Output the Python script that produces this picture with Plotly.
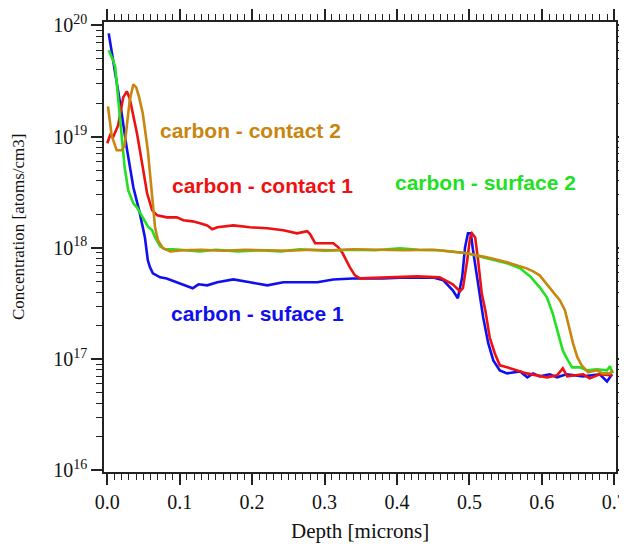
import plotly.graph_objects as go

# ---------------- data ----------------
depth_s1 = [0.002, 0.008, 0.018, 0.027, 0.036, 0.045, 0.049, 0.052, 0.056, 0.059, 0.063,
            0.073, 0.082, 0.100, 0.118, 0.126, 0.138, 0.152, 0.174, 0.197, 0.221, 0.243,
            0.266, 0.290, 0.312, 0.339, 0.381, 0.404, 0.450, 0.464, 0.477, 0.484, 0.490,
            0.494, 0.498, 0.502, 0.505, 0.512, 0.519, 0.526, 0.533, 0.542, 0.552, 0.570,
            0.580, 0.588, 0.597, 0.611, 0.621, 0.634, 0.657, 0.680, 0.690, 0.697]
conc_s1 = [8.47e19, 4.95e19, 1.95e19, 7.84e18, 3.50e18, 2.04e18, 1.53e18, 1.24e18, 7.72e17,
           6.68e17, 5.90e17, 5.43e17, 5.30e17, 4.80e17, 4.33e17, 4.70e17, 4.60e17, 4.90e17,
           5.20e17, 4.90e17, 4.60e17, 4.90e17, 4.90e17, 4.90e17, 5.20e17, 5.30e17, 5.30e17,
           5.40e17, 5.40e17, 5.10e17, 4.15e17, 3.52e17, 5.43e17, 1.01e18, 1.35e18, 1.35e18,
           9.50e17, 4.80e17, 2.37e17, 1.39e17, 9.74e16, 7.92e16, 7.44e16, 7.75e16, 6.85e16,
           7.44e16, 7.00e16, 7.30e16, 6.85e16, 7.30e16, 7.00e16, 7.30e16, 6.30e16, 7.30e16]

depth_c1 = [0.000, 0.004, 0.008, 0.015, 0.022, 0.027, 0.031, 0.036, 0.041, 0.048, 0.055,
            0.062, 0.069, 0.082, 0.096, 0.105, 0.118, 0.128, 0.138, 0.145, 0.152, 0.174,
            0.197, 0.221, 0.243, 0.262, 0.270, 0.276, 0.280, 0.287, 0.303, 0.312, 0.319,
            0.325, 0.335, 0.342, 0.349, 0.381, 0.404, 0.428, 0.459, 0.477, 0.487, 0.491,
            0.497, 0.501, 0.5035, 0.508, 0.512, 0.517, 0.522, 0.528, 0.535, 0.542, 0.552,
            0.566, 0.579, 0.593, 0.607, 0.621, 0.629, 0.635, 0.657, 0.666, 0.680, 0.697]
conc_c1 = [8.7e18, 1.03e19, 9.85e18, 1.26e19, 2.25e19, 2.55e19, 2.20e19, 1.55e19, 1.07e19,
           5.8e18, 3.09e18, 2.17e18, 1.96e18, 1.88e18, 1.88e18, 1.77e18, 1.73e18, 1.66e18,
           1.59e18, 1.47e18, 1.53e18, 1.59e18, 1.53e18, 1.50e18, 1.44e18, 1.35e18, 1.38e18,
           1.41e18, 1.33e18, 1.10e18, 1.10e18, 1.10e18, 1.01e18, 8.93e17, 6.68e17, 5.66e17,
           5.32e17, 5.43e17, 5.54e17, 5.54e17, 5.43e17, 4.70e17, 4.06e17, 4.33e17, 7.72e17,
           1.24e18, 1.35e18, 1.24e18, 7.72e17, 3.90e17, 2.74e17, 1.57e17, 1.13e17, 8.79e16,
           8.43e16, 7.92e16, 7.44e16, 7.14e16, 6.85e16, 7.14e16, 8.26e16, 7.00e16, 7.30e16,
           6.71e16, 7.30e16, 7.14e16]

depth_s2 = [0.002, 0.008, 0.011, 0.015, 0.020, 0.024, 0.029, 0.036, 0.041, 0.049, 0.056,
            0.062, 0.066, 0.073, 0.080, 0.091, 0.110, 0.128, 0.150, 0.180, 0.210, 0.240,
            0.266, 0.300, 0.340, 0.370, 0.404, 0.430, 0.459, 0.497, 0.524, 0.552, 0.570,
            0.584, 0.597, 0.607, 0.615, 0.621, 0.625, 0.629, 0.636, 0.642, 0.653, 0.662,
            0.676, 0.690, 0.694, 0.698]
conc_s2 = [5.96e19, 4.85e19, 4.19e19, 2.12e19, 1.07e19, 5.29e18, 3.29e18, 2.51e18, 2.31e18,
           1.88e18, 1.56e18, 1.44e18, 1.24e18, 1.03e18, 9.7e17, 9.7e17, 9.5e17, 9.3e17,
           9.6e17, 9.3e17, 9.5e17, 9.3e17, 9.7e17, 9.4e17, 9.6e17, 9.5e17, 9.9e17, 9.6e17,
           9.5e17, 8.93e17, 8.05e17, 7.26e17, 6.54e17, 5.54e17, 4.42e17, 3.59e17, 2.58e17,
           1.89e17, 1.47e17, 1.19e17, 9.74e16, 8.43e16, 8.43e16, 7.92e16, 8.10e16, 7.92e16,
           8.60e16, 7.44e16]

depth_c2 = [0.001, 0.004, 0.006, 0.013, 0.020, 0.024, 0.027, 0.031, 0.036, 0.040, 0.044,
            0.049, 0.056, 0.063, 0.066, 0.070, 0.077, 0.087, 0.105, 0.130, 0.160, 0.190,
            0.220, 0.250, 0.280, 0.310, 0.340, 0.380, 0.410, 0.450, 0.497, 0.524, 0.552,
            0.579, 0.588, 0.597, 0.611, 0.625, 0.632, 0.639, 0.643, 0.649, 0.655, 0.664,
            0.676, 0.684, 0.694, 0.698]
conc_c2 = [1.87e19, 1.26e19, 1.03e19, 7.53e18, 7.53e18, 8.34e18, 1.21e19, 2.12e19, 2.95e19,
           2.77e19, 2.25e19, 1.62e19, 7.53e18, 2.67e18, 1.53e18, 1.17e18, 9.9e17, 9.3e17,
           9.5e17, 9.6e17, 9.4e17, 9.6e17, 9.5e17, 9.4e17, 9.6e17, 9.5e17, 9.7e17, 9.6e17,
           9.5e17, 9.6e17, 8.93e17, 8.21e17, 7.41e17, 6.54e17, 6.15e17, 5.66e17, 4.42e17,
           3.37e17, 2.74e17, 1.81e17, 1.39e17, 1.04e17, 8.79e16, 7.60e16, 7.92e16, 7.44e16,
           7.44e16, 7.92e16]

series_names = ["carbon - suface 1", "carbon - contact 1", "carbon - surface 2", "carbon - contact 2"]
series_colors = ["#1010EE", "#EE1111", "#22E022", "#C8860F"]

y_tick_vals = [1e16, 1e17, 1e18, 1e19, 1e20]
y_tick_text = ["10<sup>16</sup>", "10<sup>17</sup>", "10<sup>18</sup>", "10<sup>19</sup>", "10<sup>20</sup>"]
x_tick_vals = [0.0, 0.1, 0.2, 0.3, 0.4, 0.5, 0.6, 0.7]
x_tick_text = ["0.0", "0.1", "0.2", "0.3", "0.4", "0.5", "0.6", "0.7"]
y_minor_vals = [float(m) * 10.0 ** e for e in range(16, 20) for m in range(2, 10)]

# ---------------- figure ----------------
fig = go.Figure()
for xs, ys, name, col in zip([depth_s1, depth_c1, depth_s2, depth_c2],
                             [conc_s1, conc_c1, conc_s2, conc_c2],
                             series_names, series_colors):
    fig.add_trace(go.Scatter(x=xs, y=ys, mode="lines", name=name,
                             line=dict(color=col, width=2.6), showlegend=False))

axis_col = "#222222"
tick_font = dict(family="Liberation Serif, Times New Roman, serif", size=20, color="#111111")

fig.update_xaxes(range=[-0.0045, 0.7024], tickvals=x_tick_vals, ticktext=x_tick_text,
                 ticks="outside", ticklen=11, tickwidth=1.5, tickcolor=axis_col,
                 showline=True, linecolor=axis_col, linewidth=1.5, mirror="ticks",
                 showgrid=False, zeroline=False, tickfont=tick_font, automargin=False,
                 minor=dict(dtick=0.01, ticks="outside", ticklen=6, tickwidth=1.2,
                            tickcolor=axis_col, showgrid=False))
fig.update_yaxes(type="log", range=[15.985, 20.03], tickvals=y_tick_vals, ticktext=y_tick_text,
                 ticks="outside", ticklen=11, tickwidth=1.5, tickcolor=axis_col,
                 showline=True, linecolor=axis_col, linewidth=1.5, mirror="ticks",
                 showgrid=False, zeroline=False, tickfont=tick_font, automargin=False,
                 minor=dict(tickvals=y_minor_vals, ticks="outside", ticklen=6, tickwidth=1.2,
                            tickcolor=axis_col, showgrid=False))

label_font = "Liberation Sans, Arial, sans-serif"
label_pos = {  # paper coords: left edge x, vertical middle y
    "carbon - contact 2": (0.1055, 0.760),
    "carbon - contact 1": (0.129, 0.637),
    "carbon - surface 2": (0.5645, 0.644),
    "carbon - suface 1": (0.127, 0.352),
}
for name, col in zip(series_names, series_colors):
    px_, py_ = label_pos[name]
    fig.add_annotation(x=px_, y=py_, xref="paper", yref="paper", xanchor="left", yanchor="middle",
                       text="<b>%s</b>" % name, showarrow=False,
                       font=dict(family=label_font, size=21, color=col))

serif = "Liberation Serif, Times New Roman, serif"
fig.add_annotation(x=0.5, y=-0.132, xref="paper", yref="paper", xanchor="center", yanchor="middle",
                   text="Depth [microns]", showarrow=False,
                   font=dict(family=serif, size=21, color="#111111"))
fig.add_annotation(x=-0.168, y=0.5444, xref="paper", yref="paper", xanchor="center", yanchor="middle",
                   text="Concentration [atoms/cm3]", textangle=-90, showarrow=False,
                   font=dict(family=serif, size=17, color="#111111"))

# the page body adds an 8px offset, so the figure is sized to fit the 627x544 window
fig.update_layout(width=619, height=536, margin=dict(l=96, r=11, t=14, b=72),
                  paper_bgcolor="white", plot_bgcolor="white")

fig.write_html("out.html")
